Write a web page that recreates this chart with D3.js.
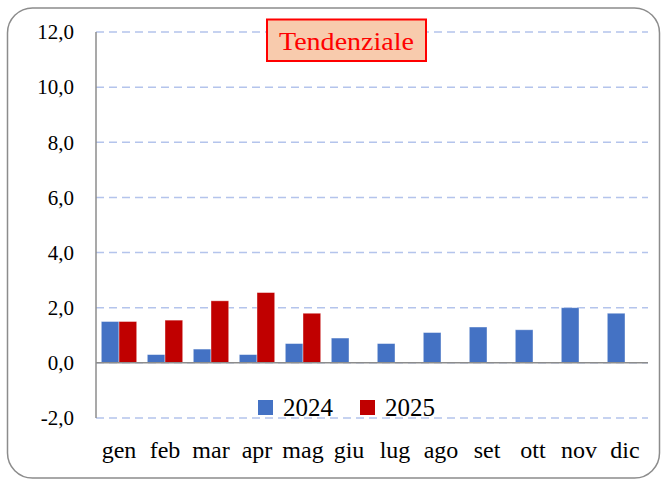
<!DOCTYPE html>
<html>
<head>
<meta charset="utf-8">
<script src="https://cdn.jsdelivr.net/npm/d3@7"></script>
<style>
  html, body { margin: 0; padding: 0; background: #fff; }
  svg { display: block; }
  text { font-family: "Liberation Serif", "Times New Roman", serif; }
</style>
</head>
<body>
<svg id="chart" width="665" height="482"></svg>
<script>
const months = ["gen","feb","mar","apr","mag","giu","lug","ago","set","ott","nov","dic"];
const seriesNames = ["2024","2025"];
const values2024 = [1.5, 0.3, 0.5, 0.3, 0.7, 0.9, 0.7, 1.1, 1.3, 1.2, 2.0, 1.8];
const values2025 = [1.5, 1.55, 2.25, 2.55, 1.8, null, null, null, null, null, null, null];
const yTicks = [-2, 0, 2, 4, 6, 8, 10, 12];
const colors = ["#4472C4", "#C00000"];
const titleText = "Tendenziale";

const svg = d3.select("#chart");

// outer frame
svg.append("rect")
  .attr("x", 7.5).attr("y", 8).attr("width", 652).attr("height", 470)
  .attr("rx", 25).attr("ry", 25)
  .attr("fill", "#fff").attr("stroke", "#8c8c8c").attr("stroke-width", 1.5);

const left = 96, right = 648;
const y = d3.scaleLinear().domain([-2, 12]).range([418, 32]);
const x0 = d3.scaleBand().domain(months).range([left, right])
  .paddingInner(0.23).paddingOuter(0.115);
const x1 = d3.scaleBand().domain(seriesNames).range([0, x0.bandwidth()]);

// gridlines
svg.append("g").selectAll("line").data(yTicks).join("line")
  .attr("x1", left).attr("x2", right)
  .attr("y1", d => y(d)).attr("y2", d => y(d))
  .attr("stroke", "#B4C4EC").attr("stroke-width", 1.5)
  .attr("stroke-dasharray", "8,5");

// y axis labels
const yAxis = d3.axisLeft(y).tickValues(yTicks).tickSize(0).tickPadding(0)
  .tickFormat(d => d.toFixed(1).replace(".", ","));
const yg = svg.append("g").attr("transform", `translate(74,0)`).call(yAxis);
yg.select(".domain").remove();
yg.selectAll("text").style("font-size", "21px").style("fill", "#000");

// bars
const data = months.map((m, i) => ({ month: m, vals: [values2024[i], values2025[i]] }));
const groups = svg.append("g").selectAll("g").data(data).join("g")
  .attr("transform", d => `translate(${x0(d.month)},0)`);
groups.selectAll("rect")
  .data(d => d.vals.map((v, j) => ({ s: seriesNames[j], v, j })).filter(e => e.v !== null))
  .join("rect")
  .attr("x", e => x1(e.s))
  .attr("width", x1.bandwidth())
  .attr("y", e => y(Math.max(0, e.v)))
  .attr("height", e => Math.abs(y(e.v) - y(0)))
  .attr("fill", e => colors[e.j])
  .attr("stroke", "rgba(255,255,255,0.5)").attr("stroke-width", 0.8);

// axes lines
svg.append("line").attr("x1", left).attr("x2", right).attr("y1", y(0)).attr("y2", y(0))
  .attr("stroke", "#8c8c8c").attr("stroke-width", 1.5);
svg.append("line").attr("x1", left).attr("x2", left).attr("y1", y(12)).attr("y2", y(-2))
  .attr("stroke", "#8c8c8c").attr("stroke-width", 1.5);

// x labels
const xAxis = d3.axisBottom(x0).tickSize(0).tickPadding(0);
const xg = svg.append("g").attr("transform", `translate(0,441)`).call(xAxis);
xg.select(".domain").remove();
xg.selectAll("text").style("font-size", "24px").style("fill", "#000")
  .attr("dy", "0.71em").attr("y", 0);

// legend
const legendItems = [
  { name: seriesNames[0], color: colors[0], x: 258 },
  { name: seriesNames[1], color: colors[1], x: 360 }
];
const lg = svg.append("g");
lg.selectAll("rect").data(legendItems).join("rect")
  .attr("x", d => d.x).attr("y", 400).attr("width", 15).attr("height", 15)
  .attr("fill", d => d.color);
lg.selectAll("text").data(legendItems).join("text")
  .attr("x", d => d.x + 25).attr("y", 416)
  .style("font-size", "25px").style("fill", "#000")
  .text(d => d.name);

// title box
svg.append("rect")
  .attr("x", 267).attr("y", 19.5).attr("width", 159).attr("height", 41.5)
  .attr("fill", "#F8CBAD").attr("stroke", "#FF0000").attr("stroke-width", 2);
svg.append("text")
  .attr("x", 346.5).attr("y", 50).attr("text-anchor", "middle")
  .style("font-size", "25px").style("fill", "#FF0000")
  .attr("textLength", 135).attr("lengthAdjust", "spacingAndGlyphs")
  .text(titleText);
</script>
</body>
</html>
